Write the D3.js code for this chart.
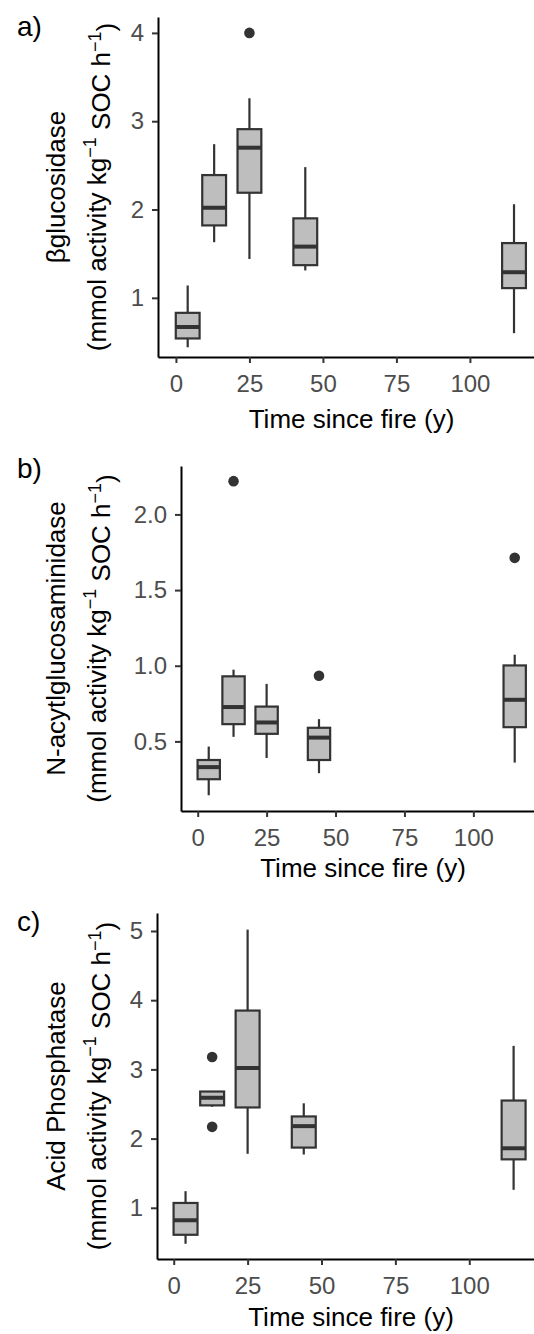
<!DOCTYPE html>
<html><head><meta charset="utf-8">
<script src="https://cdn.jsdelivr.net/npm/d3@7"></script>
<style>
body{margin:0;background:#fff}
svg{display:block}
text{font-family:"Liberation Sans",Arial,sans-serif}
</style>
</head><body><svg id="chart" width="534" height="1334"></svg>
<script>
// ---- data ----
const years = [4, 13, 25, 44, 115];
const xTickValues = [0, 25, 50, 75, 100];
const xTitle = "Time since fire (y)";

// a) beta-glucosidase
const glucLow    = [0.44, 1.63, 1.44, 1.31, 0.60];
const glucQ1     = [0.54, 1.82, 2.19, 1.37, 1.11];
const glucMedian = [0.67, 2.02, 2.70, 1.58, 1.29];
const glucQ3     = [0.83, 2.39, 2.91, 1.90, 1.62];
const glucHigh   = [1.14, 2.74, 3.26, 2.48, 2.06];
const glucOut    = [[], [], [4.0], [], []];
const glucTicks  = [1, 2, 3, 4];

// b) N-acetylglucosaminidase
const nagLow    = [0.144, 0.53, 0.39, 0.29, 0.36];
const nagQ1     = [0.25, 0.614, 0.55, 0.377, 0.594];
const nagMedian = [0.33, 0.727, 0.625, 0.525, 0.775];
const nagQ3     = [0.377, 0.93, 0.73, 0.59, 1.002];
const nagHigh   = [0.466, 0.974, 0.88, 0.647, 1.073];
const nagOut    = [[], [2.22], [], [0.934], [1.713]];
const nagTicks  = [0.5, 1.0, 1.5, 2.0];

// c) acid phosphatase
const apLow    = [0.48, 2.46, 1.78, 1.77, 1.26];
const apQ1     = [0.61, 2.48, 2.45, 1.87, 1.70];
const apMedian = [0.82, 2.59, 3.02, 2.18, 1.86];
const apQ3     = [1.07, 2.68, 3.85, 2.32, 2.55];
const apHigh   = [1.24, 2.68, 5.02, 2.51, 3.34];
const apOut    = [[], [3.18, 2.17], [], [], []];
const apTicks  = [1, 2, 3, 4, 5];

const boxWidthYears = 8.1;

// ---- layout ----
const panels = [
  {tag:"a)", name:"\u03B2glucosidase", low:glucLow, q1:glucQ1, med:glucMedian, q3:glucQ3, high:glucHigh, out:glucOut,
   yTicks:glucTicks, fmt:d3.format("d"),
   left:158, top:17, bottom:357, xDom:[-6.1, 121.8], yDom:[0.33, 4.18], tagY:36, titleY:428},
  {tag:"b)", name:"N-acytlglucosaminidase", low:nagLow, q1:nagQ1, med:nagMedian, q3:nagQ3, high:nagHigh, out:nagOut,
   yTicks:nagTicks, fmt:d3.format(".1f"),
   left:181, top:466, bottom:811, xDom:[-6.06, 122.0], yDom:[0.04, 2.32], tagY:478, titleY:877},
  {tag:"c)", name:"Acid Phosphatase", low:apLow, q1:apQ1, med:apMedian, q3:apQ3, high:apHigh, out:apOut,
   yTicks:apTicks, fmt:d3.format("d"),
   left:157, top:913, bottom:1259, xDom:[-5.66, 121.9], yDom:[0.26, 5.26], tagY:931, titleY:1326}
];
const W = 534;
const strokeC = "#333333", fillC = "#bebebe";

const svg = d3.select("#chart");

panels.forEach(p => {
  const x = d3.scaleLinear().domain(p.xDom).range([p.left, W]);
  const y = d3.scaleLinear().domain(p.yDom).range([p.bottom, p.top]);
  const g = svg.append("g");

  // boxes
  const half = (x(boxWidthYears) - x(0)) / 2;
  years.forEach((yr, i) => {
    const cx = x(yr);
    g.append("line").attr("x1", cx).attr("x2", cx).attr("y1", y(p.high[i])).attr("y2", y(p.q3[i]))
      .attr("stroke", strokeC).attr("stroke-width", 2.2);
    g.append("line").attr("x1", cx).attr("x2", cx).attr("y1", y(p.q1[i])).attr("y2", y(p.low[i]))
      .attr("stroke", strokeC).attr("stroke-width", 2.2);
    g.append("rect").attr("x", cx - half).attr("width", 2 * half)
      .attr("y", y(p.q3[i])).attr("height", y(p.q1[i]) - y(p.q3[i]))
      .attr("fill", fillC).attr("stroke", strokeC).attr("stroke-width", 2.2);
    g.append("line").attr("x1", cx - half).attr("x2", cx + half).attr("y1", y(p.med[i])).attr("y2", y(p.med[i]))
      .attr("stroke", strokeC).attr("stroke-width", 4);
    p.out[i].forEach(v => {
      g.append("circle").attr("cx", cx).attr("cy", y(v)).attr("r", 5.3).attr("fill", strokeC);
    });
  });

  // axes
  const ax = g.append("g").attr("transform", `translate(0,${p.bottom})`)
    .call(d3.axisBottom(x).tickValues(xTickValues).tickSize(6).tickSizeOuter(0).tickPadding(12));
  const ay = g.append("g").attr("transform", `translate(${p.left},0)`)
    .call(d3.axisLeft(y).tickValues(p.yTicks).tickFormat(p.fmt).tickSize(6).tickSizeOuter(0).tickPadding(8));
  [ax, ay].forEach(a => {
    a.select(".domain").attr("stroke", "#000").attr("stroke-width", 2);
    a.selectAll(".tick line").attr("stroke", "#333").attr("stroke-width", 2);
    a.selectAll(".tick text").attr("fill", "#4d4d4d").style("font-size", "24px")
      .style("font-family", '"Liberation Sans", Arial, sans-serif');
  });

  // x title
  svg.append("text").attr("x", (p.left + 543) / 2 + 1).attr("y", p.titleY)
    .attr("text-anchor", "middle").style("font-size", "26px").attr("fill", "#000").text(xTitle);

  // y title (two lines)
  const cy = (p.top + p.bottom) / 2;
  svg.append("text").attr("transform", `translate(65,${cy}) rotate(-90)`)
    .attr("text-anchor", "middle").style("font-size", "26px").attr("fill", "#000").text(p.name);
  const t2 = svg.append("text").attr("transform", `translate(106,${cy}) rotate(-90)`)
    .attr("text-anchor", "middle").style("font-size", "26px").attr("fill", "#000");
  t2.append("tspan").text("(mmol activity kg");
  t2.append("tspan").attr("dy", "-0.55em").style("font-size", "18px").text("\u22121");
  t2.append("tspan").attr("dy", "0.55em").text(" SOC h");
  t2.append("tspan").attr("dy", "-0.55em").style("font-size", "18px").text("\u22121");
  t2.append("tspan").attr("dy", "0.55em").text(")");

  // panel tag
  svg.append("text").attr("x", 17).attr("y", p.tagY).style("font-size", "28px").attr("fill", "#000").text(p.tag);
});
</script>
</body></html>
